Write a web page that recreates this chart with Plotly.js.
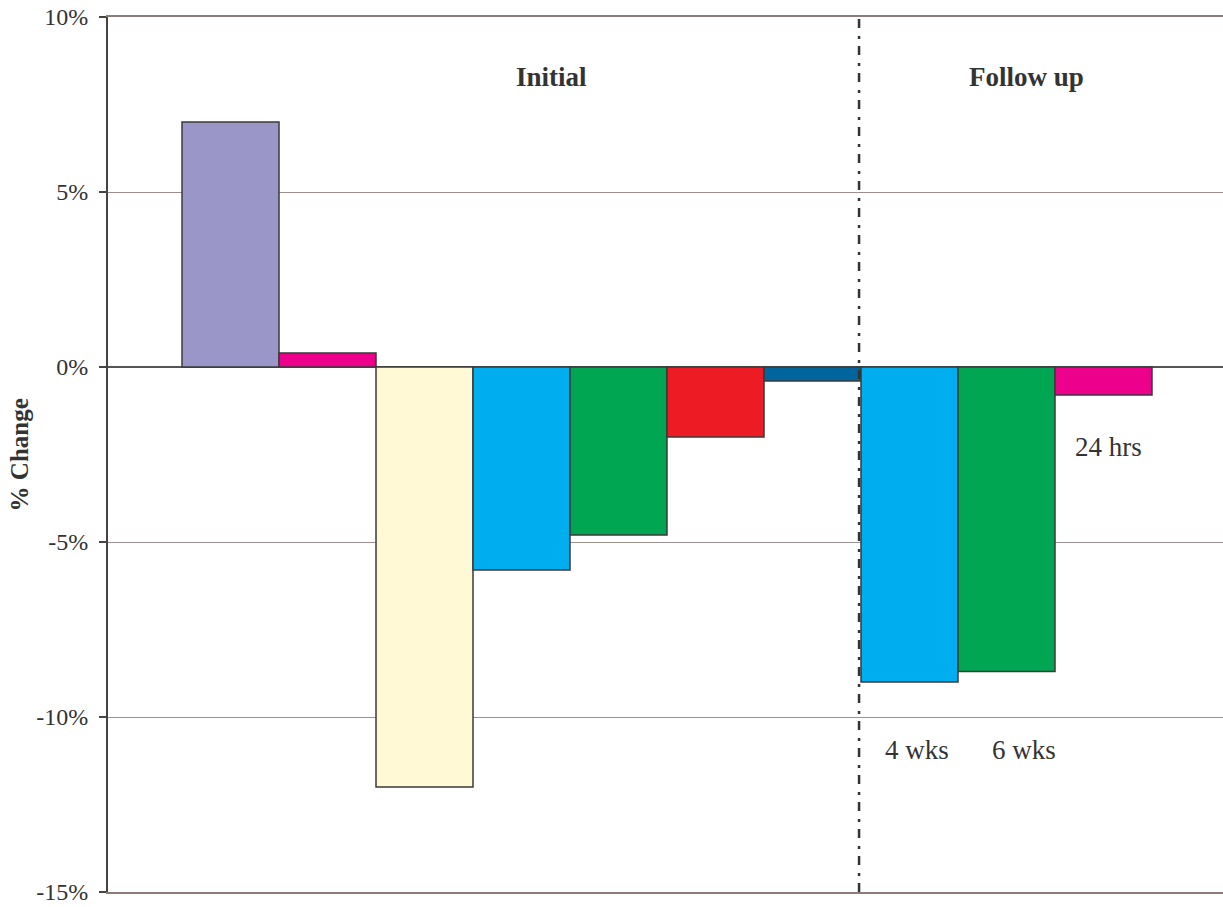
<!DOCTYPE html>
<html>
<head>
<meta charset="utf-8">
<script src="https://cdn.plot.ly/plotly-3.0.1.min.js"></script>
<style>html,body{margin:0;padding:0;background:#fff;}#chart{width:1223px;height:907px;}</style>
</head>
<body>
<div id="chart"></div>
<script>
// Data
const positions = [0, 1, 2, 3, 4, 5, 6, 7, 8, 9];
const changes = [7.0, 0.4, -12.0, -5.8, -4.8, -2.0, -0.4, -9.0, -8.7, -0.8];
const barColors = ['#9b96c8', '#ec008c', '#fff9d5', '#00aeef', '#00a651', '#ed1c24', '#00659c', '#00aeef', '#00a651', '#ec008c'];
const tickValues = [-15, -10, -5, 0, 5, 10];
const tickLabels = ['-15%', '-10%', '-5%', '0%', '5%', '10%'];
const groupLabels = ['Initial', 'Follow up'];
const groupLabelX = [3.31, 8.21];
const periodLabels = ['4 wks', '6 wks', '24 hrs'];
const periodLabelX = [7.08, 8.18, 9.05];
const periodLabelY = [-10.94, -10.94, -2.29];
const dividerX = 6.48;

const serif = '"Liberation Serif", "Times New Roman", serif';

const trace = {
  type: 'bar',
  x: positions,
  y: changes,
  width: 1,
  marker: { color: barColors, line: { color: '#3a3a3a', width: 1.5 } },
  hoverinfo: 'skip'
};

const annotations = [];
groupLabels.forEach((t, i) => annotations.push({
  x: groupLabelX[i], y: 8.29, xref: 'x', yref: 'y', text: '<b>' + t + '</b>',
  showarrow: false, font: { family: serif, size: 27, color: '#333' }
}));
periodLabels.forEach((t, i) => annotations.push({
  x: periodLabelX[i], y: periodLabelY[i], xref: 'x', yref: 'y', text: t,
  showarrow: false, font: { family: serif, size: 27, color: '#333' }
}));
annotations.push({
  x: -0.079, y: 0.5, xref: 'paper', yref: 'paper', xanchor: 'center', yanchor: 'middle',
  text: '<b>% Change</b>',
  textangle: -90, showarrow: false, font: { family: serif, size: 25, color: '#333' }
});

const layout = {
  width: 1223, height: 907,
  margin: { l: 108, r: 0, t: 17, b: 15 },
  paper_bgcolor: '#fff', plot_bgcolor: '#fff',
  showlegend: false,
  xaxis: {
    range: [-1.263, 10.232], showticklabels: false, ticks: '',
    showgrid: false, zeroline: false,
    showline: true, mirror: true, linecolor: '#8c7c79', linewidth: 2
  },
  yaxis: {
    range: [-15, 10], tickvals: tickValues, ticktext: tickLabels,
    ticks: 'outside', ticklen: 7, tickcolor: '#444', tickwidth: 1.5,
    ticklabelstandoff: 6,
    tickfont: { family: serif, size: 24, color: '#333' },
    showgrid: true, gridcolor: '#a0908d', gridwidth: 1,
    zeroline: true, zerolinecolor: '#555', zerolinewidth: 1.5,
    showline: true, linecolor: '#444', linewidth: 2
  },
  shapes: [{
    type: 'line', xref: 'x', yref: 'paper', x0: dividerX, x1: dividerX, y0: 0, y1: 1,
    line: { color: '#333', width: 2.5, dash: '9px,7px,3px,8px' }
  }],
  annotations: annotations
};

Plotly.newPlot('chart', [trace], layout, { displayModeBar: false, staticPlot: true });
</script>
</body>
</html>
